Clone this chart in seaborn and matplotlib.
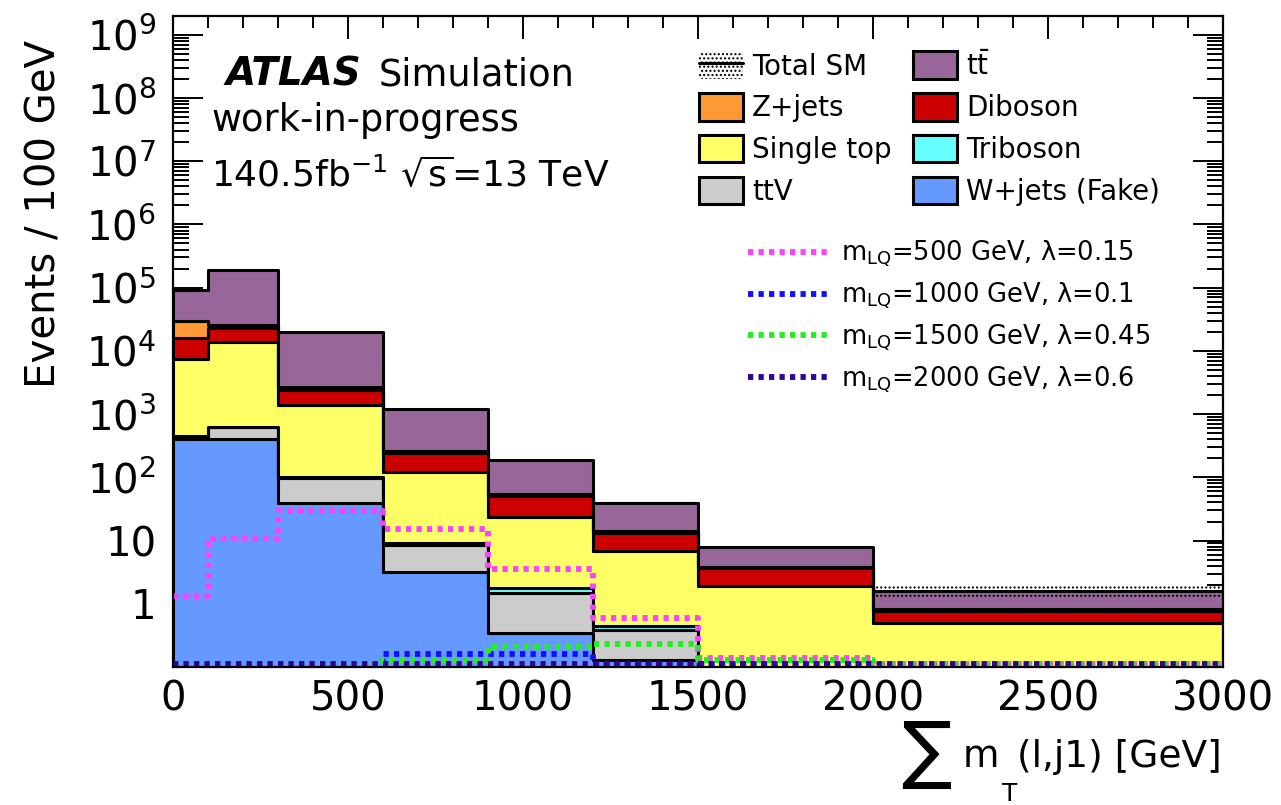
import numpy as np
import pandas as pd
import matplotlib
matplotlib.use("Agg")
import matplotlib.pyplot as plt
import seaborn as sns
from matplotlib.patches import Patch
from matplotlib.lines import Line2D
from matplotlib.ticker import FixedLocator, FixedFormatter, MultipleLocator, LogLocator, NullFormatter

# ---------------- data ----------------
bin_edges = [0, 100, 300, 600, 900, 1200, 1500, 2000, 3000]

# background processes (events / 100 GeV), stacked bottom -> top
wjets     = [400, 400, 39, 3.2, 0.35, 0.13, 0.0, 0.0]
ttv       = [40, 220, 59, 5.3, 1.15, 0.26, 0.02, 0.0]
triboson  = [5, 8, 2, 0.8, 0.3, 0.06, 0.0, 0.0]
singletop = [6950, 13070, 1290, 112, 21.8, 6.45, 1.86, 0.50]
diboson   = [8400, 9300, 1010, 118, 27.4, 6.3, 1.84, 0.28]
zjets     = [13700, 2500, 300, 20, 3.0, 0.8, 0.1, 0.04]
ttbar     = [61500, 164500, 17300, 960, 134, 25, 4.1, 0.78]
total_unc = [1500, 3000, 300, 15, 3, 0.8, 0.3, 0.3]

# signals
sig_500  = [1.34, 10.5, 29.5, 15.5, 3.5, 0.60, 0.138, 0.0]
sig_1000 = [0.0, 0.0, 0.0, 0.16, 0.16, 0.0, 0.0, 0.0]
sig_1500 = [0.0, 0.0, 0.0, 0.13, 0.21, 0.23, 0.13, 0.0]
sig_2000 = [0.0, 0.0, 0.0, 0.0, 0.0, 0.0, 0.0, 0.0]

bkg_names = ["W+jets (Fake)", "ttV", "Triboson", "Single top", "Diboson", "Z+jets", "tt"]
bkg_values = [wjets, ttv, triboson, singletop, diboson, zjets, ttbar]
bkg_colors = ["#6699ff", "#cccccc", "#66ffff", "#ffff66", "#cc0000", "#ff9933", "#996699"]

sig_labels = [r"m$_{\mathrm{LQ}}$=500 GeV, λ=0.15",
              r"m$_{\mathrm{LQ}}$=1000 GeV, λ=0.1",
              r"m$_{\mathrm{LQ}}$=1500 GeV, λ=0.45",
              r"m$_{\mathrm{LQ}}$=2000 GeV, λ=0.6"]
sig_values = [sig_500, sig_1000, sig_1500, sig_2000]
sig_colors = ["#ff40ff", "#1010ff", "#22ee22", "#330099"]

x_ticks = [0, 500, 1000, 1500, 2000, 2500, 3000]
x_tick_labels = ["0", "500", "1000", "1500", "2000", "2500", "3000"]
y_ticks = [1, 10, 1e2, 1e3, 1e4, 1e5, 1e6, 1e7, 1e8, 1e9]
y_tick_labels = ["1", "10", r"$10^{2}$", r"$10^{3}$", r"$10^{4}$", r"$10^{5}$",
                 r"$10^{6}$", r"$10^{7}$", r"$10^{8}$", r"$10^{9}$"]

# ---------------- style ----------------
sns.set_style("ticks")
plt.rcParams["font.family"] = ["DejaVu Sans"]
plt.rcParams["mathtext.default"] = "regular"
plt.rcParams["hatch.linewidth"] = 1.0
for k in ["text.color", "axes.labelcolor", "xtick.color", "ytick.color",
          "xtick.labelcolor", "ytick.labelcolor", "axes.edgecolor"]:
    plt.rcParams[k] = "black"

W, H = 1281, 805
fig = plt.figure(figsize=(W / 100, H / 100), dpi=100)
fig.patch.set_facecolor("white")
ax = fig.add_axes([173 / W, 1 - 667 / H, 1050 / W, (667 - 15.7) / H])
ax.set_facecolor("white")

edges = np.array(bin_edges, dtype=float)
centers = 0.5 * (edges[:-1] + edges[1:])

rows = []
for name, vals in zip(bkg_names, bkg_values):
    for c, v in zip(centers, vals):
        rows.append({"x": c, "w": v, "process": name})
df = pd.DataFrame(rows)

palette = dict(zip(bkg_names, bkg_colors))
sns.histplot(data=df, x="x", weights="w", hue="process",
             hue_order=bkg_names[::-1], palette=palette,
             multiple="stack", bins=bin_edges, element="step", fill=True,
             alpha=1, edgecolor="black", linewidth=2.2, legend=False, ax=ax)

ax.set_yscale("log")

# total SM uncertainty band
total = np.sum(np.array(bkg_values), axis=0)
unc = np.array(total_unc)
ax.stairs(total + unc, edges, baseline=total - unc, fill=True,
          facecolor="none", edgecolor="black", hatch="....", linewidth=0, zorder=5)

# signals
floor = 0.113
for vals, col in zip(sig_values, sig_colors):
    v = np.maximum(np.array(vals), floor)
    sns.lineplot(x=edges, y=np.append(v, v[-1]), drawstyle="steps-post",
                 color=col, linewidth=4.2, linestyle=(0, (0.9, 0.9)),
                 ax=ax, zorder=6, errorbar=None)

ax.set_xlim(0, 3000)
ax.set_ylim(0.1, 2e9)
ax.set_xlabel("")
ax.set_ylabel("")

ax.xaxis.set_major_locator(FixedLocator(x_ticks))
ax.xaxis.set_major_formatter(FixedFormatter(x_tick_labels))
ax.xaxis.set_minor_locator(MultipleLocator(100))
ax.yaxis.set_major_locator(FixedLocator(y_ticks))
ax.yaxis.set_major_formatter(FixedFormatter(y_tick_labels))
ax.yaxis.set_minor_locator(LogLocator(base=10, subs=np.arange(2, 10), numticks=30))
ax.yaxis.set_minor_formatter(NullFormatter())

ax.tick_params(axis="both", which="both", direction="in", top=True, right=True,
               width=1.4, color="black", labelcolor="black")
ax.tick_params(axis="x", which="major", length=16.5, pad=9, labelsize=29)
ax.tick_params(axis="x", which="minor", length=8.5)
ax.tick_params(axis="y", which="major", length=21.5, pad=12, labelsize=29)
ax.tick_params(axis="y", which="minor", length=11.5)
for s in ax.spines.values():
    s.set_linewidth(1.6)
    s.set_color("black")
    s.set_zorder(10)

# ---------------- legends ----------------
lw_box = 2.2
tot_handle = (Patch(facecolor="white", edgecolor="black", hatch="....", linewidth=0),
              Line2D([], [], color="black", linewidth=2.2))
h1 = [tot_handle,
      Patch(facecolor=palette["Z+jets"], edgecolor="black", linewidth=lw_box),
      Patch(facecolor=palette["Single top"], edgecolor="black", linewidth=lw_box),
      Patch(facecolor=palette["ttV"], edgecolor="black", linewidth=lw_box),
      Patch(facecolor=palette["tt"], edgecolor="black", linewidth=lw_box),
      Patch(facecolor=palette["Diboson"], edgecolor="black", linewidth=lw_box),
      Patch(facecolor=palette["Triboson"], edgecolor="black", linewidth=lw_box),
      Patch(facecolor=palette["W+jets (Fake)"], edgecolor="black", linewidth=lw_box)]
l1 = ["Total SM", "Z+jets", "Single top", "ttV",
      r"t$\bar{\mathrm{t}}$", "Diboson", "Triboson", "W+jets (Fake)"]
leg1 = ax.legend(handles=h1, labels=l1, ncol=2, loc="upper left",
                 bbox_to_anchor=(699 / W, 1 - 51 / H), bbox_transform=fig.transFigure,
                 frameon=False, fontsize=20, handlelength=1.58, handleheight=1.15,
                 handletextpad=0.32, labelspacing=0.45, columnspacing=0.79,
                 borderpad=0, borderaxespad=0, labelcolor="black")
ax.add_artist(leg1)

h2 = [Line2D([], [], color=c, linewidth=4.2, linestyle=(0, (0.9, 0.9))) for c in sig_colors]
leg2 = ax.legend(handles=h2, labels=sig_labels, loc="upper left",
                 bbox_to_anchor=(748 / W, 1 - 239 / H), bbox_transform=fig.transFigure,
                 frameon=False, fontsize=18.5, handlelength=3.07,
                 handletextpad=0.55, labelspacing=0.44, borderpad=0, borderaxespad=0,
                 labelcolor="black")

# ---------------- text ----------------
def fx(px):
    return px / W

def fy(py):
    return 1 - py / H

fig.text(fx(226), fy(86), "ATLAS", fontsize=28, fontweight="bold", fontstyle="italic",
         ha="left", va="baseline", color="black")
fig.text(fx(379), fy(86), "Simulation", fontsize=26.5, ha="left", va="baseline", color="black")
fig.text(fx(211), fy(131), "work-in-progress", fontsize=26.5, ha="left", va="baseline", color="black")
fig.text(fx(211), fy(186), r"140.5fb$^{-1}$ $\sqrt{s}$=13 TeV", fontsize=26,
         ha="left", va="baseline", color="black")

fig.text(fx(45), fy(40), "Events / 100 GeV", fontsize=29, rotation=90,
         ha="center", va="top", color="black")

fig.text(fx(926), fy(754), "∑", fontsize=54, ha="center", va="center", color="black")
fig.text(fx(963), fy(767), "m", fontsize=27, ha="left", va="baseline", color="black")
fig.text(fx(1002), fy(801), "T", fontsize=18, ha="left", va="baseline", color="black")
fig.text(fx(1222), fy(767), "(l,j1) [GeV]", fontsize=27, ha="right", va="baseline", color="black")

fig.savefig("out.png", dpi=100, facecolor="white")
